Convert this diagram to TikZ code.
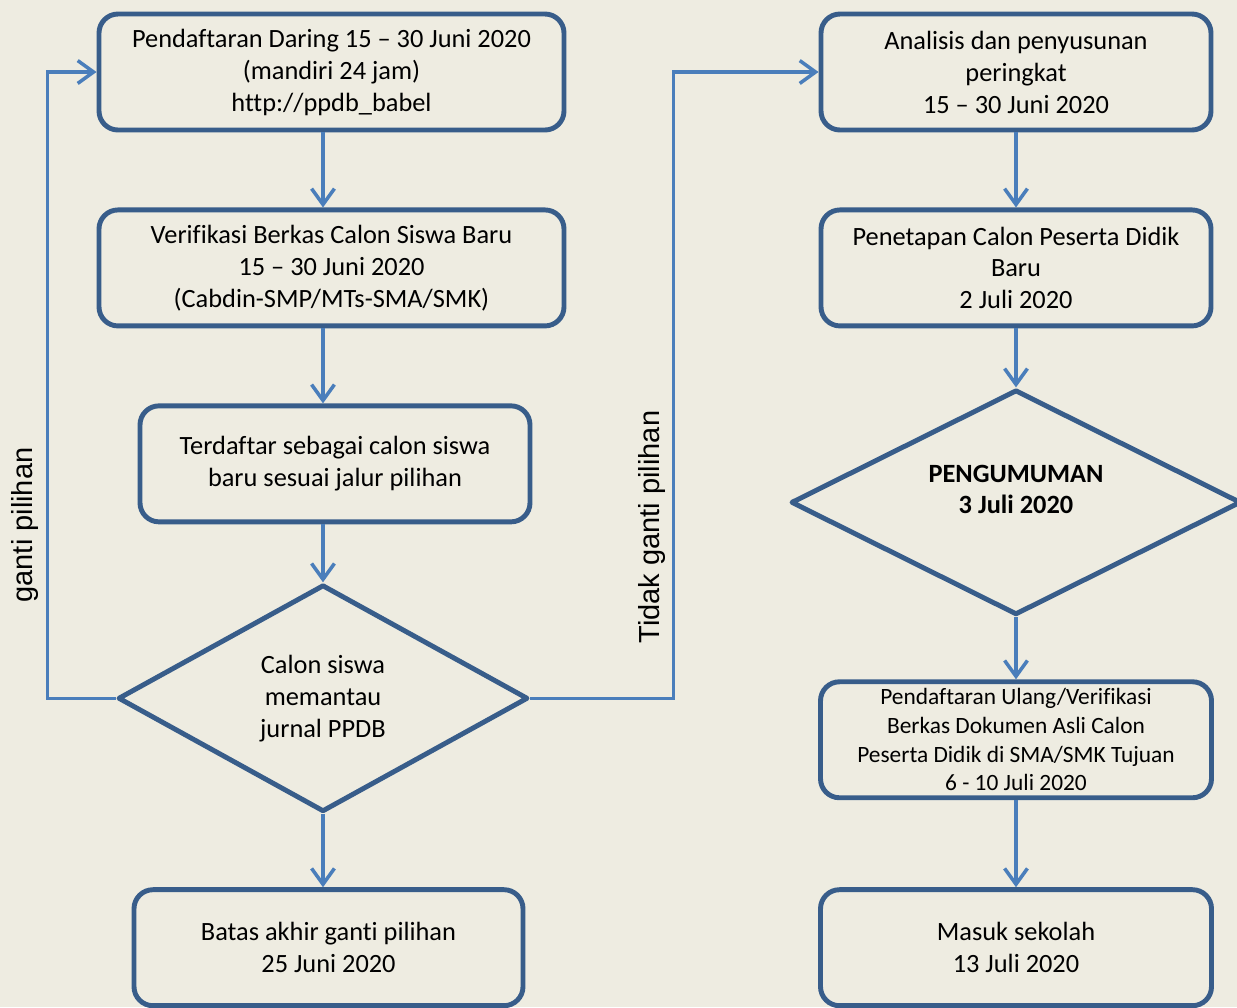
\documentclass[tikz,border=0pt]{standalone}
\usepackage{fontspec}
\setmainfont{Carlito}[Ligatures=NoCommon]
\newfontfamily\sidefont{Liberation Sans}
\usetikzlibrary{shapes.geometric,arrows.meta,positioning}
\definecolor{PpdbBack}{HTML}{EEECE1}
\definecolor{PpdbLine}{HTML}{385D8A}
\definecolor{PpdbArrow}{HTML}{4A7EBB}
\tikzset{
  stagebox/.style={rectangle,rounded corners=0.38cm,draw=PpdbLine,fill=PpdbBack,line width=2.8pt,minimum height=2.32cm,align=center,font=\fontsize{15}{18.2}\selectfont},
  smallbox/.style={stagebox,font=\fontsize{13.3}{16.3}\selectfont},
  decision/.style={diamond,aspect=2,draw=PpdbLine,fill=PpdbBack,line width=2.8pt,line join=round,inner sep=0pt,align=center,font=\fontsize{15}{18.2}\selectfont},
  flow/.style={-{Straight Barb[length=9pt,width=13pt]},line width=2pt,color=PpdbArrow},
  sidelabel/.style={rotate=90,font=\sidefont\fontsize{16.5}{20}\selectfont},
}

\begin{document}
\begin{tikzpicture}[node distance=1.5cm]
  \useasboundingbox (0,0) rectangle (24.74,-20.14);
  \fill[PpdbBack] (0,0) rectangle (24.74,-20.14);

  % left column
  \node[stagebox, minimum width=9.3cm] (daring) at (6.63,-1.44) {Pendaftaran Daring 15 -- 30 Juni 2020\\(mandiri 24 jam)\\http://ppdb\_babel};
  \node[stagebox, minimum width=9.3cm, below=of daring] (verif) {Verifikasi Berkas Calon Siswa Baru\\15 -- 30 Juni 2020\\(Cabdin-SMP/MTs-SMA/SMK)};
  \node[stagebox, minimum width=7.8cm, below=of verif, xshift=0.07cm] (terdaftar) {Terdaftar sebagai calon siswa\\baru sesuai jalur pilihan};
  \node[decision, minimum width=8.2cm, minimum height=4.54cm, below=1.16cm of terdaftar, xshift=-0.24cm] (pantau) {Calon siswa\\memantau\\jurnal PPDB};
  \node[stagebox, minimum width=7.78cm, below=1.46cm of pantau, xshift=0.11cm] (batas) {Batas akhir ganti pilihan\\25 Juni 2020};

  % right column
  \node[stagebox, minimum width=7.8cm] (analisis) at (20.32,-1.44) {Analisis dan penyusunan\\peringkat\\15 -- 30 Juni 2020};
  \node[stagebox, minimum width=7.8cm, below=of analisis] (penetapan) {Penetapan Calon Peserta Didik\\Baru\\2 Juli 2020};
  \node[decision, minimum width=9.0cm, minimum height=4.5cm, below=1.18cm of penetapan, font=\fontsize{15}{18.2}\selectfont\bfseries] (umum) {PENGUMUMAN\\3 Juli 2020\\[-0.12cm]\mbox{}};
  \node[smallbox, minimum width=7.82cm, below=1.24cm of umum] (ulang) {Pendaftaran Ulang/Verifikasi\\Berkas Dokumen Asli Calon\\Peserta Didik di SMA/SMK Tujuan\\6 - 10 Juli 2020};
  \node[stagebox, minimum width=7.82cm, below=1.74cm of ulang] (masuk) {Masuk sekolah\\13 Juli 2020};

  % side labels
  \node[sidelabel] (ganti) at (0.5,-10.5) {ganti pilihan};
  \node[sidelabel] (tidak) at (13.04,-10.54) {Tidak ganti pilihan};

  \draw[flow] (daring.south -| pantau.north) -- (verif.north -| pantau.north);
  \draw[flow] (verif.south -| pantau.north) -- (terdaftar.north -| pantau.north);
  \draw[flow] (terdaftar.south -| pantau.north) -- (pantau.north);
  \draw[flow] (pantau.south) -- (batas.north -| pantau.south);
  \draw[flow] (pantau.west) -- ++(-1.36,0) |- (daring.west);
  \draw[flow] (pantau.east) -- ++(2.86,0) |- (analisis.west);

  \draw[flow] (analisis) -- (penetapan);
  \draw[flow] (penetapan) -- (umum);
  \draw[flow] (umum) -- (ulang);
  \draw[flow] (ulang) -- (masuk);
\end{tikzpicture}
\end{document}
